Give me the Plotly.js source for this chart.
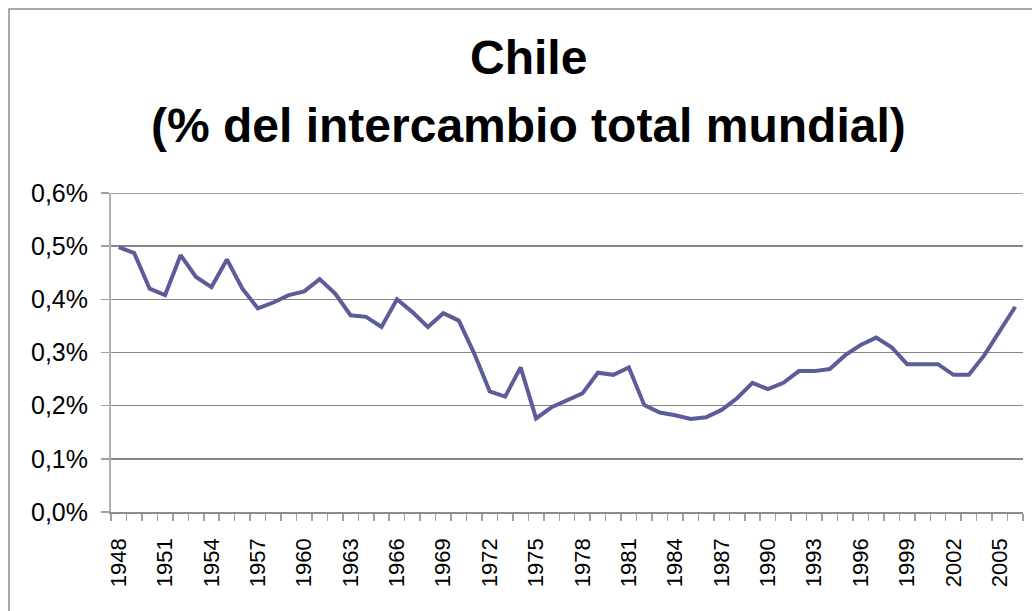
<!DOCTYPE html>
<html>
<head>
<meta charset="utf-8">
<script src="https://cdn.plot.ly/plotly-3.0.1.min.js"></script>
<style>html,body{margin:0;padding:0;background:#fff;}#chart{width:1032px;height:611px;}</style>
</head>
<body>
<div id="chart"></div>
<script>
const years = [1948,1949,1950,1951,1952,1953,1954,1955,1956,1957,1958,1959,1960,1961,1962,1963,1964,1965,1966,1967,1968,1969,1970,1971,1972,1973,1974,1975,1976,1977,1978,1979,1980,1981,1982,1983,1984,1985,1986,1987,1988,1989,1990,1991,1992,1993,1994,1995,1996,1997,1998,1999,2000,2001,2002,2003,2004,2005,2006];
const sharePct = [0.498,0.487,0.420,0.408,0.483,0.442,0.423,0.475,0.420,0.383,0.394,0.408,0.415,0.438,0.411,0.370,0.367,0.348,0.400,0.376,0.348,0.374,0.360,0.298,0.227,0.217,0.272,0.176,0.197,0.209,0.223,0.262,0.258,0.272,0.201,0.187,0.182,0.175,0.178,0.192,0.214,0.243,0.231,0.243,0.265,0.265,0.269,0.295,0.314,0.328,0.310,0.278,0.278,0.278,0.258,0.258,0.295,0.342,0.386];
const labelYears = [1948,1951,1954,1957,1960,1963,1966,1969,1972,1975,1978,1981,1984,1987,1990,1993,1996,1999,2002,2005];
const yTicks = [0,0.001,0.002,0.003,0.004,0.005,0.006];
const titleLines = ['Chile', '(% del intercambio total mundial)'];

const shares = sharePct.map(v => v/100);

const trace = {
  x: years, y: shares, type: 'scatter', mode: 'lines',
  line: {color: '#5c5c9a', width: 4}, hoverinfo: 'skip'
};

const fontFam = '"Liberation Sans", Arial, sans-serif';
// paper coords: x 0..1 -> px 111..1023 ; y 0..1 -> px 512..193
const px2x = p => (p - 111) / 912;
const px2y = p => (512 - p) / 319;

const layout = {
  width: 1032, height: 611,
  margin: {l: 111, r: 9, t: 193, b: 99},
  paper_bgcolor: '#ffffff', plot_bgcolor: '#ffffff',
  separators: ',.',
  showlegend: false,
  font: {family: fontFam, color: '#000'},
  annotations: [
    {text: '<b>' + titleLines[0] + '</b>', xref: 'paper', yref: 'paper', x: px2x(528), y: px2y(58),
     xanchor: 'center', yanchor: 'middle', showarrow: false, font: {size: 48, color: '#000', family: fontFam}},
    {text: '<b>' + titleLines[1] + '</b>', xref: 'paper', yref: 'paper', x: px2x(528), y: px2y(126),
     xanchor: 'center', yanchor: 'middle', showarrow: false, font: {size: 48, color: '#000', family: fontFam}}
  ],
  xaxis: {
    type: 'linear',
    range: [1947.5, 2006.5],
    tickmode: 'array', tickvals: labelYears, ticktext: labelYears.map(String),
    tickangle: -90, ticks: '', ticklabelstandoff: 16,
    tickfont: {size: 22, color: '#000'},
    showgrid: false, zeroline: false,
    showline: true, linecolor: '#8c8c8c', linewidth: 1.5,
    minor: {ticks: 'outside', tick0: 1947.5, dtick: 1, ticklen: 7, tickcolor: '#a0a0a0', tickwidth: 1.5, showgrid: false},
    fixedrange: true
  },
  yaxis: {
    range: [0, 0.006],
    tickmode: 'array', tickvals: yTicks,
    tickformat: '.1%',
    ticks: 'outside', ticklen: 8, tickcolor: '#a0a0a0', tickwidth: 1.5,
    ticklabelstandoff: 8,
    tickfont: {size: 25, color: '#000'},
    showgrid: true, gridcolor: '#868686', gridwidth: 1.5,
    zeroline: false,
    showline: true, linecolor: '#b0b0b0', linewidth: 2,
    fixedrange: true
  },
  shapes: [
    {type: 'rect', xref: 'paper', yref: 'paper',
     x0: -0.1118, x1: 1.1, y0: -0.5, y1: 1.5768,
     line: {color: '#8c8c8c', width: 1.5}, fillcolor: 'rgba(0,0,0,0)', layer: 'below'},
    {type: 'line', xref: 'paper', yref: 'y', x0: 0, x1: 1, y0: yTicks[yTicks.length-1], y1: yTicks[yTicks.length-1],
     line: {color: '#868686', width: 1.5}, layer: 'below'}
  ]
};

Plotly.newPlot('chart', [trace], layout, {displayModeBar: false, staticPlot: true});
</script>
</body>
</html>
